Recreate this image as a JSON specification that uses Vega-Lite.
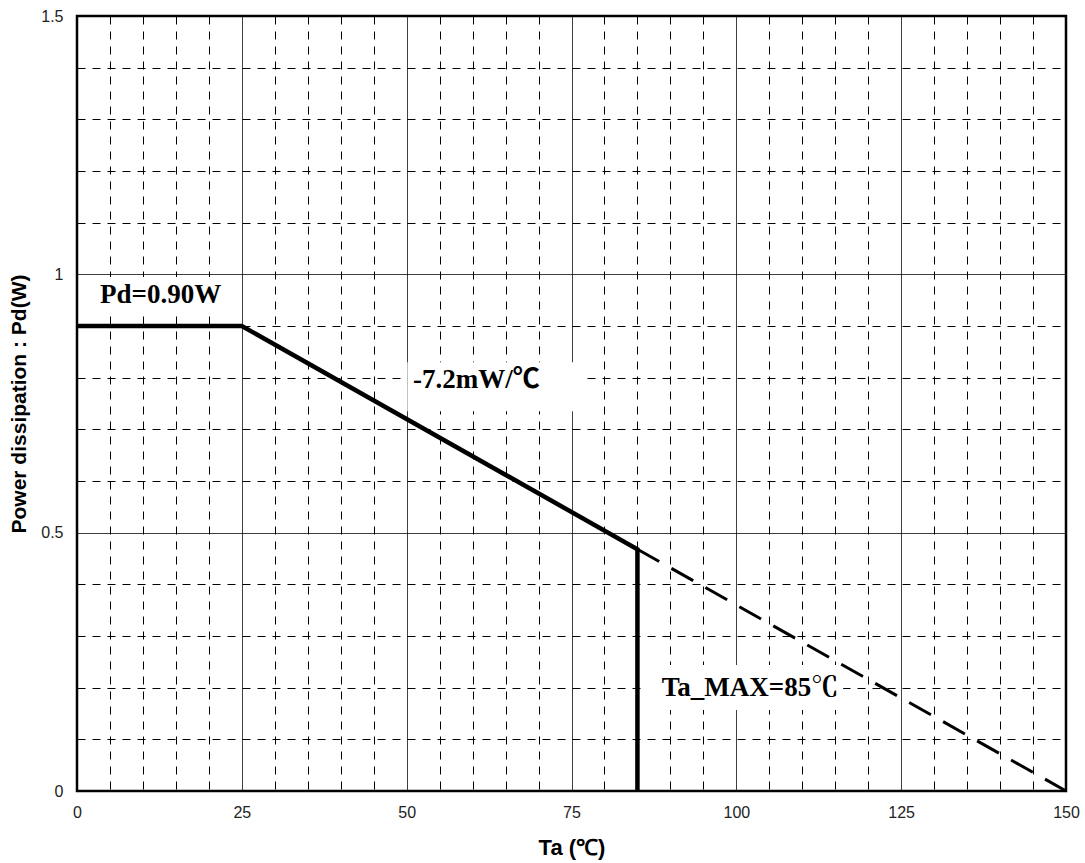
{
  "$schema": "https://vega.github.io/schema/vega-lite/v6.json",
  "width": 989,
  "height": 775,
  "autosize": {"type": "none"},
  "padding": {"left": 77, "top": 16, "right": 19, "bottom": 72},
  "background": "white",
  "config": {
    "view": {"stroke": "#000", "strokeWidth": 2.5},
    "axis": {"domain": false, "ticks": false, "tickSize": 0, "labelFont": "Liberation Sans", "labelFontSize": 16, "labelColor": "#222", "titleFont": "Liberation Sans", "titleFontWeight": "bold", "titleFontSize": 21, "titleColor": "#000", "gridColor": "#000", "gridOpacity": 1, "gridWidth": 1, "labelOverlap": false, "labelFlush": false}
  },
  "datasets": {
    "boxes": [
      {"ta": 0.3, "ta2": 24.7, "pd": 0.925, "pd2": 0.995},
      {"ta": 50.1, "ta2": 76.7, "pd": 0.735, "pd2": 0.83},
      {"ta": 85.9, "ta2": 116.2, "pd": 0.157, "pd2": 0.244}
    ],
    "curve": [
      {"seq": 1, "ta": 0, "pd": 0.9},
      {"seq": 2, "ta": 25, "pd": 0.9},
      {"seq": 3, "ta": 85, "pd": 0.468},
      {"seq": 4, "ta": 85, "pd": 0}
    ],
    "extrapolated": [
      {"seq": 1, "ta": 85, "pd": 0.468},
      {"seq": 2, "ta": 150, "pd": 0}
    ],
    "labels": [
      {"ta": 3.5, "pd": 0.96, "text": "Pd=0.90W", "kind": "serif"},
      {"ta": 50.96, "pd": 0.795, "text": "-7.2mW/℃", "kind": "mixed"},
      {"ta": 88.7, "pd": 0.2, "text": "Ta_MAX=85℃", "kind": "serif"}
    ]
  },
  "encoding": {
    "x": {"field": "ta", "type": "quantitative",
      "scale": {"domain": [0, 150], "nice": false, "zero": false},
      "axis": {
        "title": "Ta (℃)",
        "values": [0,5,10,15,20,25,30,35,40,45,50,55,60,65,70,75,80,85,90,95,100,105,110,115,120,125,130,135,140,145,150],
        "labelExpr": "datum.value % 25 === 0 ? format(datum.value, 'd') : ''",
        "labelPadding": 13,
        "gridDash": {"condition": {"test": "datum.value % 25 === 0", "value": [1, 0]}, "value": [8, 7]},
        "titleFontSize": 22,
        "titleX": 494.5, "titleY": 56, "titleBaseline": "middle", "titleAlign": "center"
      }
    },
    "y": {"field": "pd", "type": "quantitative",
      "scale": {"domain": [0, 1.5], "nice": false, "zero": false},
      "axis": {
        "title": "Power dissipation : Pd(W)",
        "values": [0,0.1,0.2,0.3,0.4,0.5,0.6,0.7,0.8,0.9,1,1.1,1.2,1.3,1.4,1.5],
        "labelExpr": "datum.value === 0 ? '0' : datum.value === 0.5 ? '0.5' : datum.value === 1 ? '1' : datum.value === 1.5 ? '1.5' : ''",
        "labelPadding": 14,
        "gridDash": {"condition": {"test": "datum.value === 0 || datum.value === 0.5 || datum.value === 1 || datum.value === 1.5", "value": [1, 0]}, "value": [8, 7]},
        "titleX": -58, "titleY": 387.5, "titleAngle": -90, "titleBaseline": "middle", "titleAlign": "center"
      }
    }
  },
  "layer": [
    {
      "data": {"name": "boxes"},
      "mark": {"type": "rect", "fill": "white", "stroke": null},
      "encoding": {
        "x2": {"field": "ta2"},
        "y2": {"field": "pd2"}
      }
    },
    {
      "data": {"name": "extrapolated"},
      "mark": {"type": "line", "color": "#000", "strokeWidth": 3, "strokeDash": [25, 14]},
      "encoding": {
        "order": {"field": "seq"}
      }
    },
    {
      "data": {"name": "curve"},
      "mark": {"type": "line", "color": "#000", "strokeWidth": 4.5, "strokeJoin": "miter"},
      "encoding": {
        "order": {"field": "seq"}
      }
    },
    {
      "data": {"name": "labels"},
      "transform": [{"filter": "datum.kind === 'serif'"}],
      "mark": {"type": "text", "font": "Liberation Serif, Noto Serif CJK JP, Noto Sans CJK JP", "fontWeight": "bold", "fontSize": 27, "align": "left", "baseline": "middle", "color": "#000"},
      "encoding": {
        "text": {"field": "text"}
      }
    },
    {
      "data": {"name": "labels"},
      "transform": [{"filter": "datum.kind === 'mixed'"}],
      "mark": {"type": "text", "font": "Liberation Serif, Noto Sans CJK JP", "fontWeight": "bold", "fontSize": 27, "align": "left", "baseline": "middle", "color": "#000"},
      "encoding": {
        "text": {"field": "text"}
      }
    }
  ]
}
